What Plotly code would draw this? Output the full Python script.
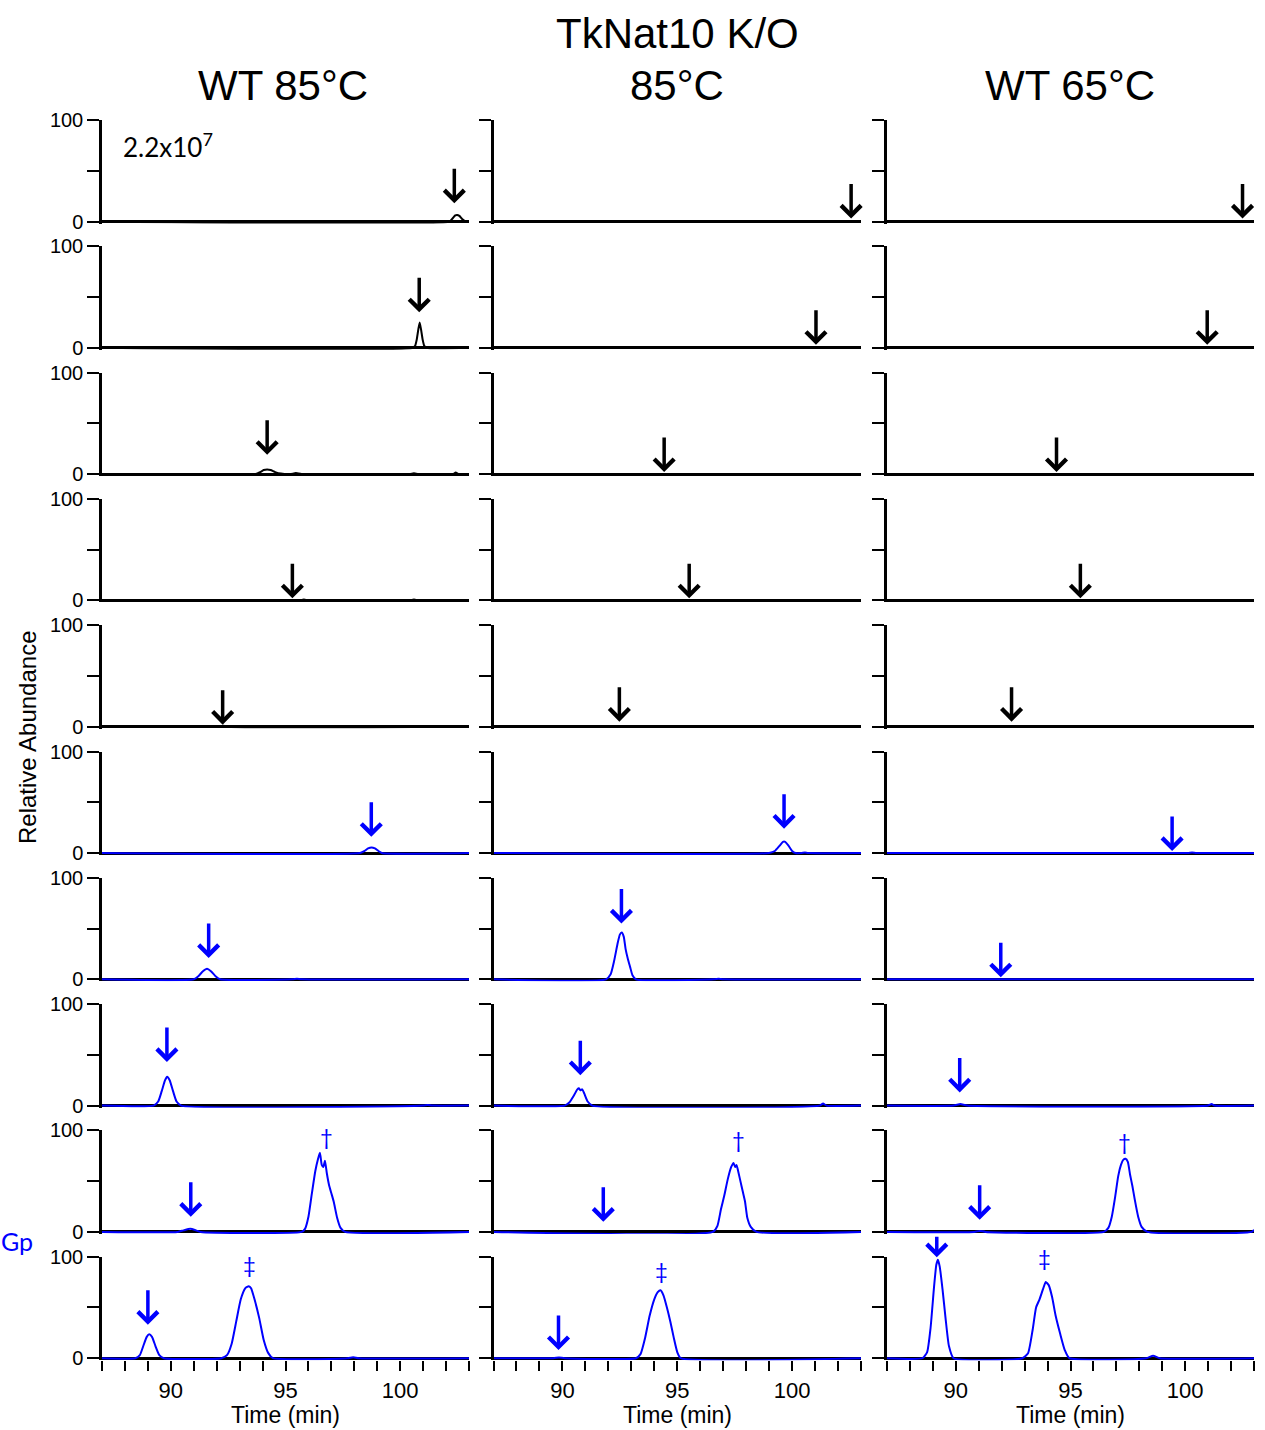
import plotly.graph_objects as go

# ---------------- data ----------------
x_range = [87, 103]
x_major_ticks = [90, 95, 100]
x_major_labels = ["90", "95", "100"]
x_minor_ticks = [87, 88, 89, 91, 92, 93, 94, 96, 97, 98, 99, 101, 102, 103]
y_major_ticks = [0, 100]
y_major_labels = ["0", "100"]
y_minor_ticks = [50]

col_titles = ["WT 85°C", "85°C", "WT 65°C"]
col_supertitle = "TkNat10 K/O"
scale_label = "2.2x10<sup>7</sup>"

# Row 1
r1c1_t = [87, 102.15, 102.3, 102.4, 102.48, 102.58, 102.7, 102.85, 103]
r1c1_y = [0, 0, 3.5, 6, 6.5, 5.5, 2.5, 0, 0]
r1c2_t = [87, 103]
r1c2_y = [0, 0]
r1c3_t = [87, 103]
r1c3_y = [0, 0]
# Row 2
r2c1_t = [87, 100.55, 100.65, 100.72, 100.79, 100.85, 100.91, 100.98, 101.05, 101.15, 103]
r2c1_y = [0, 0, 2, 8, 18, 25, 18, 8, 2, 0, 0]
r2c2_t = [87, 103]
r2c2_y = [0, 0]
r2c3_t = [87, 103]
r2c3_y = [0, 0]
# Row 3
r3c1_t = [87, 93.7, 93.9, 94.05, 94.2, 94.35, 94.55, 94.8, 95.2, 95.45, 95.7, 100.4, 100.6, 100.8, 102.3, 102.42, 102.55, 103]
r3c1_y = [0, 0, 2, 4, 4.5, 4, 2, 0.5, 0, 1, 0, 0, 0.8, 0, 0, 1.5, 0, 0]
r3c2_t = [87, 103]
r3c2_y = [0, 0]
r3c3_t = [87, 103]
r3c3_y = [0, 0]
# Row 4
r4c1_t = [87, 95.6, 95.8, 96.0, 100.4, 100.6, 100.8, 103]
r4c1_y = [0, 0, 0.8, 0, 0, 0.8, 0, 0]
r4c2_t = [87, 103]
r4c2_y = [0, 0]
r4c3_t = [87, 103]
r4c3_y = [0, 0]
# Row 5
r5c1_t = [87, 92.1, 92.3, 92.5, 103]
r5c1_y = [0, 0, 1, 0, 0]
r5c2_t = [87, 103]
r5c2_y = [0, 0]
r5c3_t = [87, 103]
r5c3_y = [0, 0]
# Row 6
r6c1_t = [87, 98.25, 98.45, 98.6, 98.75, 98.9, 99.05, 99.2, 103]
r6c1_y = [0, 0, 2, 4.5, 5.5, 4.5, 2, 0, 0]
r6c2_t = [87, 99.0, 99.25, 99.45, 99.6, 99.7, 99.85, 100.0, 100.15, 100.4, 100.56, 100.7, 103]
r6c2_y = [0, 0, 2, 7, 11, 11, 7, 2, 0, 0, 0.5, 0, 0]
r6c3_t = [87, 100.1, 100.3, 100.5, 103]
r6c3_y = [0, 0, 0.5, 0, 0]
# Row 7
r7c1_t = [87, 91.0, 91.2, 91.4, 91.58, 91.75, 91.95, 92.15, 95.3, 95.5, 95.7, 103]
r7c1_y = [0, 0, 3, 8, 10.5, 8, 3, 0, 0, 0.6, 0, 0]
r7c2_t = [87, 91.9, 92.1, 92.25, 92.4, 92.5, 92.58, 92.67, 92.75, 92.85, 92.95, 93.05, 93.2, 96.6, 96.8, 97.0, 103]
r7c2_y = [0, 0, 5, 18, 35, 44, 46, 42, 30, 20, 12, 4, 0, 0, 0.5, 0, 0]
r7c3_t = [87, 103]
r7c3_y = [0, 0]
# Row 8
r8c1_t = [87, 89.25, 89.45, 89.6, 89.75, 89.84, 89.95, 90.1, 90.25, 90.45, 101.0, 101.2, 101.4, 103]
r8c1_y = [0, 0, 4, 14, 25, 28.5, 25, 14, 4, 0, 0, 0.7, 0, 0]
r8c2_t = [87, 90.1, 90.3, 90.5, 90.65, 90.72, 90.78, 90.86, 90.95, 91.1, 91.3, 101.2, 101.35, 101.5, 103]
r8c2_y = [0, 0, 3, 10, 16, 17, 15, 16, 12, 4, 0, 0, 2, 0, 0]
r8c3_t = [87, 89.9, 90.2, 90.5, 101.0, 101.15, 101.3, 103]
r8c3_y = [0, 0, 1.5, 0, 0, 1.5, 0, 0]
# Row 9
r9c1_t = [87, 90.3, 90.55, 90.85, 91.1, 91.3, 95.7, 95.85, 96.0, 96.15, 96.3, 96.42, 96.5, 96.58, 96.65,
          96.72, 96.8, 96.9, 97.0, 97.1, 97.25, 97.4, 97.6, 103]
r9c1_y = [0, 0, 1.5, 3, 1.5, 0, 0, 3, 15, 38, 60, 72, 78, 66, 64, 70, 58, 46, 38, 30, 14, 4, 0, 0]
r9c2_t = [87, 96.55, 96.75, 96.9, 97.05, 97.2, 97.35, 97.45, 97.52, 97.58, 97.65, 97.75, 97.85, 97.95,
          98.05, 98.2, 98.45, 103]
r9c2_y = [0, 0, 6, 22, 36, 52, 64, 68, 64, 66, 60, 50, 40, 30, 14, 5, 0, 0]
r9c3_t = [87, 90.8, 91.05, 91.3, 96.45, 96.65, 96.8, 96.95, 97.08, 97.2, 97.3, 97.4, 97.5, 97.6, 97.7,
          97.8, 97.95, 98.1, 98.35, 102.9, 103]
r9c3_y = [0, 0, 1, 0, 0, 4, 15, 35, 55, 66, 71, 72, 69, 56, 45, 32, 15, 5, 0, 0, 2]
# Row 10
r10c1_t = [87, 88.45, 88.65, 88.8, 88.95, 89.06, 89.18, 89.33, 89.5, 89.7, 92.2, 92.45, 92.65, 92.85,
           93.05, 93.25, 93.4, 93.5, 93.65, 93.85, 94.05, 94.25, 94.45, 97.7, 97.95, 98.2, 103]
r10c1_y = [0, 0, 3, 12, 21, 23.5, 21, 12, 3, 0, 0, 3, 14, 36, 58, 69, 71, 69, 58, 40, 18, 5, 0, 0, 1, 0, 0]
r10c2_t = [87, 89.6, 89.85, 90.1, 93.2, 93.4, 93.6, 93.8, 94.0, 94.15, 94.27, 94.4, 94.55, 94.7, 94.85,
           95.0, 95.15, 103]
r10c2_y = [0, 0, 0.8, 0, 0, 4, 20, 42, 58, 65, 67, 62, 50, 36, 20, 6, 0, 0]
r10c3_t = [87, 88.55, 88.75, 88.9, 89.05, 89.15, 89.22, 89.3, 89.42, 89.55, 89.7, 89.9, 92.9, 93.15,
           93.35, 93.5, 93.65, 93.8, 93.92, 94.05, 94.2, 94.35, 94.55, 94.75, 94.95, 98.3, 98.6, 98.9, 103]
r10c3_y = [0, 0, 6, 30, 70, 92, 97, 90, 68, 40, 12, 0, 0, 5, 28, 50, 58, 68, 75, 72, 60, 42, 24, 8, 0, 0,
           2.5, 0, 0]

traces_t = [[r1c1_t, r1c2_t, r1c3_t], [r2c1_t, r2c2_t, r2c3_t], [r3c1_t, r3c2_t, r3c3_t],
            [r4c1_t, r4c2_t, r4c3_t], [r5c1_t, r5c2_t, r5c3_t], [r6c1_t, r6c2_t, r6c3_t],
            [r7c1_t, r7c2_t, r7c3_t], [r8c1_t, r8c2_t, r8c3_t], [r9c1_t, r9c2_t, r9c3_t],
            [r10c1_t, r10c2_t, r10c3_t]]
traces_y = [[r1c1_y, r1c2_y, r1c3_y], [r2c1_y, r2c2_y, r2c3_y], [r3c1_y, r3c2_y, r3c3_y],
            [r4c1_y, r4c2_y, r4c3_y], [r5c1_y, r5c2_y, r5c3_y], [r6c1_y, r6c2_y, r6c3_y],
            [r7c1_y, r7c2_y, r7c3_y], [r8c1_y, r8c2_y, r8c3_y], [r9c1_y, r9c2_y, r9c3_y],
            [r10c1_y, r10c2_y, r10c3_y]]

# arrow positions (time, tip height) per row, for the three columns
arrow_time = [[102.36, 102.57, 102.5], [100.83, 101.04, 100.96], [94.2, 94.43, 94.39],
              [95.3, 95.52, 95.43], [92.26, 92.48, 92.43], [98.74, 99.65, 99.43],
              [91.65, 92.57, 91.96], [89.83, 90.78, 90.17], [90.87, 91.78, 91.04],
              [89.0, 89.83, 89.17]]
arrow_tip = [[18, 3, 3], [35, 3, 3], [19, 2, 2], [2, 2, 2], [2, 5, 5], [16, 24, 2],
             [21, 55, 2], [43, 30, 13], [15, 10, 12], [33, 8, 99.5]]

# dagger marks: row index, col index, time, height, symbol
mark_row = [8, 8, 8, 9, 9, 9]
mark_col = [0, 1, 2, 0, 1, 2]
mark_time = [96.78, 97.65, 97.35, 93.43, 94.3, 93.88]
mark_height = [94, 91, 89, 92, 86, 99]
mark_text = ["†", "†", "†", "‡", "‡", "‡"]

# ---------------- layout geometry ----------------
W, H = 1265, 1430
COL_PX = [(102, 469), (493.5, 861), (887, 1254)]
ROW_TOP0, ROW_ZERO0, ROW_PITCH = 120.0, 221.5, 126.3
YMIN = -2
BLUE = "#0000FF"
FONT = "Liberation Sans, Arial, sans-serif"
FONT2 = "Lato, Open Sans, sans-serif"


def py(px):
    return 1 - px / H


fig = go.Figure()
layout = {}
annotations = []

for r in range(10):
    for c in range(3):
        i = r * 3 + c + 1
        s = "" if i == 1 else str(i)
        top = ROW_TOP0 + ROW_PITCH * r
        zero = ROW_ZERO0 + ROW_PITCH * r
        bottom = zero + (zero - top) * (-YMIN) / 100.0
        color = "black" if r < 5 else BLUE
        bottom_row = (r == 9)
        fig.add_trace(go.Scatter(
            x=traces_t[r][c], y=traces_y[r][c], mode="lines",
            line=dict(color=color, width=2, shape="spline", smoothing=0.5),
            xaxis="x" + s, yaxis="y" + s, showlegend=False, hoverinfo="skip"))
        layout["xaxis" + s] = dict(
            domain=[COL_PX[c][0] / W, COL_PX[c][1] / W], anchor="y" + s,
            range=x_range, showline=False, showgrid=False, zeroline=False,
            tickmode="array", tickvals=x_major_ticks, ticktext=x_major_labels,
            ticks="outside" if bottom_row else "", ticklen=10, tickwidth=2, tickcolor="black",
            minor=dict(tickmode="array", tickvals=x_minor_ticks,
                       ticks="outside" if bottom_row else "", ticklen=10, tickwidth=2,
                       tickcolor="black", showgrid=False),
            showticklabels=bottom_row,
            tickfont=dict(family=FONT, size=22, color="black"), fixedrange=True,
            automargin=False)
        layout["yaxis" + s] = dict(
            domain=[py(bottom), py(top)], anchor="x" + s,
            range=[YMIN, 100], showline=True, linewidth=2.5, linecolor="black",
            showgrid=False, zeroline=True, zerolinecolor="black", zerolinewidth=2.5,
            tickmode="array", tickvals=y_major_ticks, ticktext=y_major_labels,
            ticks="outside", ticklen=12, tickwidth=2, tickcolor="black",
            minor=dict(tickmode="array", tickvals=y_minor_ticks, ticks="outside",
                       ticklen=12, tickwidth=2, tickcolor="black", showgrid=False),
            showticklabels=(c == 0),
            tickfont=dict(family=FONT, size=20, color="black"), fixedrange=True,
            automargin=False)
        # arrow
        annotations.append(dict(
            xref="x" + s, yref="y" + s, x=arrow_time[r][c], y=arrow_tip[r][c],
            ax=0, ay=-22 if (r == 9 and c == 2) else -36, axref="pixel", ayref="pixel",
            text="", showarrow=True, arrowhead=4, arrowsize=1.1, arrowwidth=3.5,
            arrowcolor=color, standoff=0))

for k in range(len(mark_text)):
    r, c = mark_row[k], mark_col[k]
    s = str(r * 3 + c + 1)
    annotations.append(dict(
        xref="x" + s, yref="y" + s, x=mark_time[k], y=mark_height[k], text=mark_text[k],
        showarrow=False, xanchor="center", yanchor="middle",
        font=dict(family=FONT2, size=22, color=BLUE)))

# titles
annotations.append(dict(xref="paper", yref="paper", x=283 / W, y=py(85), text=col_titles[0],
                        showarrow=False, xanchor="center", yanchor="middle",
                        font=dict(family=FONT, size=42, color="black")))
annotations.append(dict(xref="paper", yref="paper", x=677 / W, y=py(33), text=col_supertitle,
                        showarrow=False, xanchor="center", yanchor="middle",
                        font=dict(family=FONT, size=42, color="black")))
annotations.append(dict(xref="paper", yref="paper", x=677 / W, y=py(85), text=col_titles[1],
                        showarrow=False, xanchor="center", yanchor="middle",
                        font=dict(family=FONT, size=42, color="black")))
annotations.append(dict(xref="paper", yref="paper", x=1070 / W, y=py(85), text=col_titles[2],
                        showarrow=False, xanchor="center", yanchor="middle",
                        font=dict(family=FONT, size=42, color="black")))
# x axis titles
for xc in (285, 677, 1070):
    annotations.append(dict(xref="paper", yref="paper", x=xc / W, y=py(1415), text="Time (min)",
                            showarrow=False, xanchor="center", yanchor="middle",
                            font=dict(family=FONT, size=23, color="black")))
# y title
annotations.append(dict(xref="paper", yref="paper", x=28 / W, y=py(737), text="Relative Abundance",
                        showarrow=False, xanchor="center", yanchor="middle", textangle=-90,
                        font=dict(family=FONT, size=24, color="black")))
# Gp label
annotations.append(dict(xref="paper", yref="paper", x=17 / W, y=py(1241), text="Gp",
                        showarrow=False, xanchor="center", yanchor="middle",
                        font=dict(family=FONT2, size=25, color=BLUE)))
# intensity scale
annotations.append(dict(xref="paper", yref="paper", x=121 / W, y=py(146), text=scale_label,
                        showarrow=False, xanchor="left", yanchor="middle",
                        font=dict(family=FONT2, size=26, color="black")))

fig.update_layout(
    width=W, height=H, margin=dict(l=0, r=0, t=0, b=0, pad=0, autoexpand=False),
    autosize=False, showlegend=False,
    paper_bgcolor="white", plot_bgcolor="white",
    annotations=annotations, **layout)

fig.write_html("out.html")
